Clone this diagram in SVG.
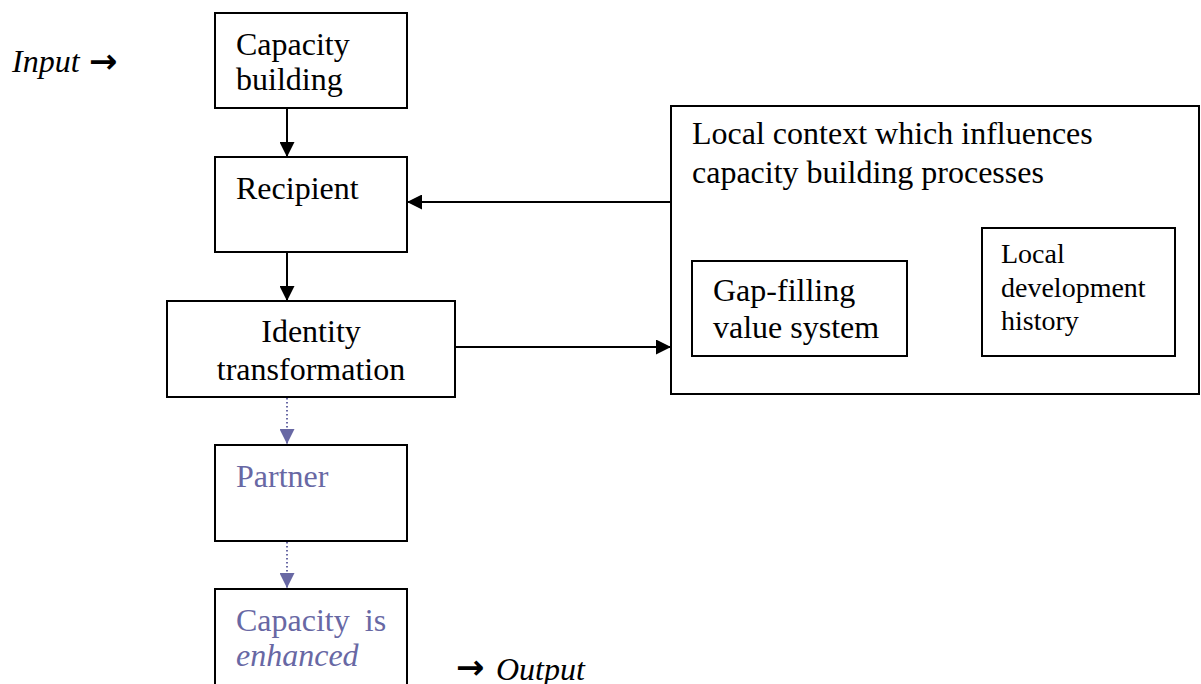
<svg xmlns="http://www.w3.org/2000/svg" width="1201" height="684" viewBox="0 0 1201 684">
  <style>
    .box { fill: #ffffff; stroke: #000000; stroke-width: 2; }
    .t { font-family: "Liberation Serif", "Times New Roman", serif; font-size: 32px; fill: #000000; }
    .s { font-size: 28px; }
    .p { fill: #6868a4; }
    .i { font-style: italic; }
    .arr { font-family: "DejaVu Sans", sans-serif; font-weight: bold; font-size: 34px; fill: #000000; }
    .edge { stroke: #000000; stroke-width: 2; fill: none; }
    .dot { stroke: #6868a4; stroke-width: 2; stroke-dasharray: 1.5 2.5; fill: none; }
  </style>
  <defs>
    <marker id="ah" viewBox="0 0 10 10" refX="10" refY="5" markerWidth="15" markerHeight="15" markerUnits="userSpaceOnUse" orient="auto">
      <path d="M0,0 L10,5 L0,10 z" fill="#000000"/>
    </marker>
    <marker id="ahp" viewBox="0 0 10 10" refX="10" refY="5" markerWidth="15" markerHeight="15" markerUnits="userSpaceOnUse" orient="auto">
      <path d="M0,0 L10,5 L0,10 z" fill="#6868a4"/>
    </marker>
  </defs>

  <g id="labels">
    <text class="t i" x="12" y="72">Input</text>
    <text class="arr" x="89" y="73">→</text>
    <text class="arr" x="456" y="679">→</text>
    <text class="t i" x="496" y="680">Output</text>
  </g>

  <g id="connectors">
    <line class="edge" x1="287" y1="108" x2="287" y2="157" marker-end="url(#ah)"/>
    <line class="edge" x1="287" y1="252" x2="287" y2="301" marker-end="url(#ah)"/>
    <line class="edge" x1="671" y1="202" x2="407" y2="202" marker-end="url(#ah)"/>
    <line class="edge" x1="455" y1="347" x2="671" y2="347" marker-end="url(#ah)"/>
    <line class="dot" x1="287" y1="398" x2="287" y2="444" marker-end="url(#ahp)"/>
    <line class="dot" x1="287" y1="542" x2="287" y2="588" marker-end="url(#ahp)"/>
  </g>

  <g id="capacity-building">
    <rect class="box" x="215" y="13" width="192" height="95"/>
    <text class="t" x="236" y="55">Capacity</text>
    <text class="t" x="236" y="90">building</text>
  </g>

  <g id="recipient">
    <rect class="box" x="215" y="157" width="192" height="95"/>
    <text class="t" x="236" y="199">Recipient</text>
  </g>

  <g id="identity-transformation">
    <rect class="box" x="167" y="301" width="288" height="96"/>
    <text class="t" x="311" y="342" text-anchor="middle">Identity</text>
    <text class="t" x="311" y="380" text-anchor="middle">transformation</text>
  </g>

  <g id="partner">
    <rect class="box" x="215" y="445" width="192" height="96"/>
    <text class="t p" x="236" y="487">Partner</text>
  </g>

  <g id="capacity-enhanced">
    <rect class="box" x="215" y="589" width="192" height="110"/>
    <text class="t p" x="236" y="631">Capacity <tspan dx="7">is</tspan></text>
    <text class="t p i" x="236" y="666">enhanced</text>
  </g>

  <g id="local-context">
    <rect class="box" x="671" y="106" width="528" height="288"/>
    <text class="t" x="692" y="144">Local context which influences</text>
    <text class="t" x="692" y="183">capacity building processes</text>
  </g>

  <g id="gap-filling">
    <rect class="box" x="692" y="261" width="215" height="95"/>
    <text class="t" x="713" y="301">Gap-filling</text>
    <text class="t" x="713" y="338">value system</text>
  </g>

  <g id="local-development">
    <rect class="box" x="982" y="228" width="193" height="128"/>
    <text class="t s" x="1001" y="263">Local</text>
    <text class="t s" x="1001" y="297">development</text>
    <text class="t s" x="1001" y="330">history</text>
  </g>
</svg>
